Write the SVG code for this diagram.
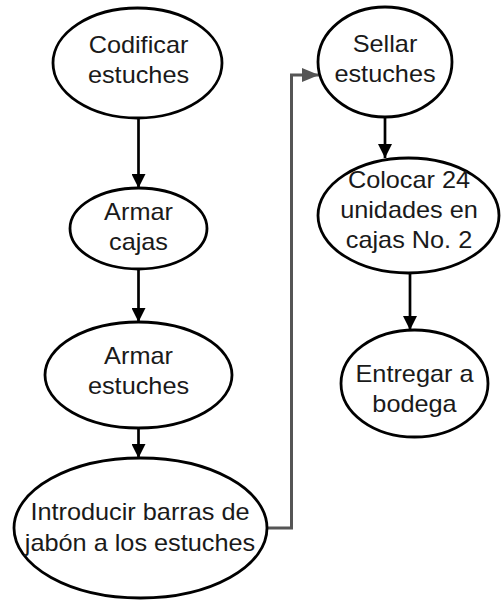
<svg xmlns="http://www.w3.org/2000/svg" width="501" height="601" viewBox="0 0 501 601">
<defs>
<style>
.node ellipse{fill:#fff;stroke:#000;stroke-width:2.8}
.node text{font-family:"Liberation Sans",Arial,sans-serif;font-size:23px;fill:#1a1a1a;text-anchor:middle}
.c{fill:none;stroke:#000;stroke-width:2.7}
.g{fill:none;stroke:#555;stroke-width:3}
</style>
<marker id="ab" markerWidth="14" markerHeight="14" refX="14" refY="7" orient="auto" markerUnits="userSpaceOnUse"><path d="M0,0 L14,7 L0,14 Z" fill="#000"/></marker>
<marker id="ag" markerWidth="17" markerHeight="14" refX="17" refY="7" orient="auto" markerUnits="userSpaceOnUse"><path d="M0,0 L17,7 L0,14 Z" fill="#555"/></marker>
</defs>
<rect width="501" height="601" fill="#fff"/>
<g id="connectors">
<line class="c" x1="138.5" y1="118" x2="138.5" y2="188" marker-end="url(#ab)"/>
<line class="c" x1="138.5" y1="269" x2="138.5" y2="322" marker-end="url(#ab)"/>
<line class="c" x1="138.5" y1="428" x2="138.5" y2="458" marker-end="url(#ab)"/>
<polyline class="g" points="266,528 291.5,528 291.5,75 319,75" marker-end="url(#ag)"/>
<line class="c" x1="385" y1="117" x2="385" y2="158" marker-end="url(#ab)"/>
<line class="c" x1="410" y1="273" x2="410" y2="330" marker-end="url(#ab)"/>
</g>
<g id="n1" class="node"><ellipse cx="137.5" cy="63" rx="84.5" ry="55"/><g transform="translate(138.5,0) scale(1.1,1)"><text x="0" y="53">Codificar</text><text x="0" y="83">estuches</text></g></g>
<g id="n2" class="node"><ellipse cx="138.5" cy="228.5" rx="68.5" ry="40.5"/><g transform="translate(138.5,0) scale(1.1,1)"><text x="0" y="220">Armar</text><text x="0" y="250">cajas</text></g></g>
<g id="n3" class="node"><ellipse cx="138.5" cy="375" rx="93.5" ry="53"/><g transform="translate(138.5,0) scale(1.1,1)"><text x="0" y="364">Armar</text><text x="0" y="394">estuches</text></g></g>
<g id="n4" class="node"><ellipse cx="140.5" cy="528" rx="126.5" ry="70"/><g transform="translate(140,0) scale(1.1,1)"><text x="0" y="520">Introducir barras de</text><text x="0" y="551">jabón a los estuches</text></g></g>
<g id="n5" class="node"><ellipse cx="385" cy="62" rx="67" ry="55"/><g transform="translate(385,0) scale(1.1,1)"><text x="0" y="52">Sellar</text><text x="0" y="82">estuches</text></g></g>
<g id="n6" class="node"><ellipse cx="408.5" cy="215.5" rx="90.5" ry="57.5"/><g transform="translate(409,0) scale(1.1,1)"><text x="0" y="188">Colocar 24</text><text x="0" y="218">unidades en</text><text x="0" y="248">cajas No. 2</text></g></g>
<g id="n7" class="node"><ellipse cx="414.5" cy="383.5" rx="73.5" ry="53.5"/><g transform="translate(414.5,0) scale(1.1,1)"><text x="0" y="382">Entregar a</text><text x="0" y="412">bodega</text></g></g>
</svg>
